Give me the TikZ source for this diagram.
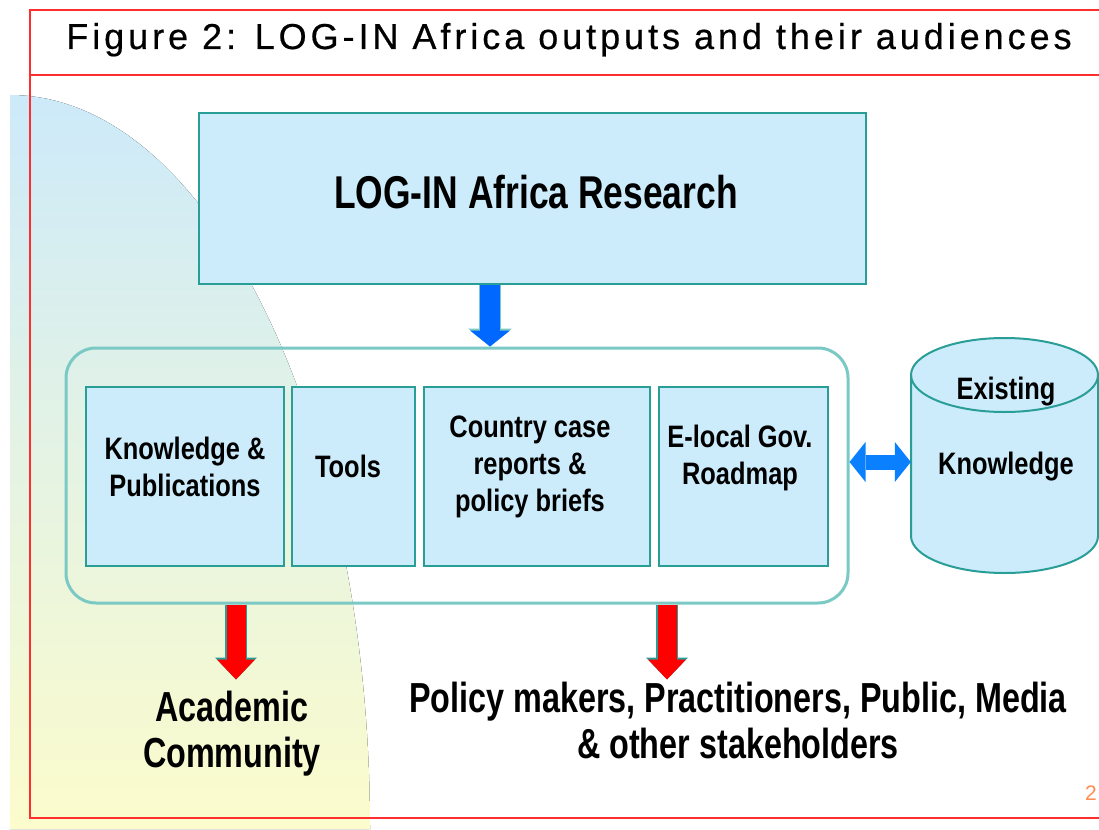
\documentclass[tikz,border=0pt]{standalone}
\usepackage{fontspec}
\setmainfont{Liberation Sans}
\usetikzlibrary{arrows.meta}
\newfontfamily\titlefont[LetterSpace=11,FakeBold=0.5]{Liberation Sans}
\newfontfamily\headfont[FakeStretch=0.77]{Liberation Sans Bold}
\newfontfamily\cellfont[FakeStretch=0.82]{Liberation Sans Bold}

\definecolor{boxblue}{RGB}{204,236,252}
\definecolor{boxedge}{RGB}{40,158,150}
\definecolor{softedge}{RGB}{122,201,196}
\definecolor{framered}{RGB}{255,45,45}
\definecolor{arrowblue}{RGB}{0,104,255}
\definecolor{linkblue}{RGB}{10,128,255}
\definecolor{arrowred}{RGB}{255,0,0}
\definecolor{skyfade}{RGB}{205,234,250}
\definecolor{sandfade}{RGB}{252,252,204}
\definecolor{pagenum}{RGB}{255,140,80}

\tikzset{
  frame/.style={draw=framered, line width=2pt},
  panel/.style={draw=boxedge, fill=boxblue, line width=2pt, inner sep=0pt},
  outputs/.style={draw=softedge, line width=3pt, rounded corners=30pt, inner sep=0pt},
  celltext/.style={font=\cellfont\fontsize{31}{37}\selectfont, align=center, inner sep=0pt},
  headtext/.style={font=\headfont\fontsize{42}{46}\selectfont, align=center, inner sep=0pt},
  downblue/.style={draw=arrowblue, line width=20pt,
    -{Triangle[width=40pt,length=16pt,line width=0pt]},
    preaction={draw=softedge, line width=22pt, -{Triangle[width=44pt,length=18pt,line width=0pt]}}},
  downred/.style={draw=arrowred, line width=19pt,
    -{Triangle[width=38pt,length=20pt,line width=0pt]},
    preaction={draw=boxedge, line width=22pt, -{Triangle[width=42pt,length=22pt,line width=0pt]}}},
  twoway/.style={draw=linkblue, line width=15pt,
    {Triangle[width=40pt,length=16pt,line width=0pt]}-{Triangle[width=40pt,length=16pt,line width=0pt]}},
}

\begin{document}
\begin{tikzpicture}[x=1pt,y=-1pt]
\useasboundingbox (0,0) rectangle (1099,829);
\begin{scope}
\clip (0,0) rectangle (1099,829);

% soft quarter-ellipse backdrop on the left
\fill[top color=skyfade, bottom color=sandfade]
  (10,829) -- (10,95) arc[start angle=-90, end angle=0, x radius=360, y radius=734] -- cycle;

% page frame with title strip
\draw[frame] (1120,10) -- (30,10) -- (30,818) -- (1120,818);
\draw[frame] (30,75) -- (1120,75);
\node[font=\titlefont\fontsize{36}{42}\selectfont, inner sep=0pt, anchor=base] (title) at (569,49)
  {Figure 2: LOG-IN Africa outputs and their audiences};

% research block
\node[panel, minimum width=667pt, minimum height=171pt] (research) at (532.5,198.5) {};
\node[headtext, font=\headfont\fontsize{46}{50}\selectfont] (researchtxt) at (536,192) {LOG-IN Africa Research};

% outputs container and its four cells
\node[outputs, minimum width=782pt, minimum height=255pt] (outs) at (457,475.5) {};
\node[panel, minimum width=198pt, minimum height=179pt] (know) at (185,476.5) {};
\node[panel, minimum width=123pt, minimum height=179pt] (tools) at (353.5,476.5) {};
\node[panel, minimum width=226pt, minimum height=179pt] (country) at (537,476.5) {};
\node[panel, minimum width=169pt, minimum height=179pt] (roadmap) at (743.5,476.5) {};

\node[celltext] (knowtxt) at (185,467) {Knowledge \&\\Publications};
\node[celltext] (toolstxt) at (348,466) {Tools};
\node[celltext] (countrytxt) at (530,467) {Country case\\reports \&\\policy briefs};
\node[celltext] (roadmaptxt) at (740,458) {E-local Gov.\\Roadmap};

% existing knowledge store
\fill[boxblue] (911,375) -- (911,536)
  arc[start angle=180, end angle=0, x radius=93.5, y radius=37]
  -- (1098,375) arc[start angle=0, end angle=-180, x radius=93.5, y radius=37] -- cycle;
\draw[boxedge, line width=2pt] (911,375) -- (911,536)
  arc[start angle=180, end angle=0, x radius=93.5, y radius=37] -- (1098,375);
\draw[boxedge, line width=2pt] (1004.5,375) ellipse[x radius=93.5, y radius=37];
\node[minimum width=187pt, minimum height=235pt, inner sep=0pt] (store) at (1004.5,455.5) {};
\node[celltext] (storetop) at (1006,392) {Existing};
\node[celltext] (storemid) at (1006,467) {Knowledge};

% audiences
\node[headtext] (academic) at (232,734) {Academic\\Community};
\node[headtext] (policy) at (738,720) {Policy makers, Practitioners, Public, Media\\\& other stakeholders};
\node[font=\fontsize{21}{24}\selectfont, text=pagenum, inner sep=0pt] (pageno) at (1091,793) {2};

% connectors
\coordinate (feedx) at (490,0);
\coordinate (acadx) at (236,0);
\coordinate (polx) at (667,0);
\coordinate (linky) at (0,462);
\draw[downblue] (research.south -| feedx) -- (outs.north -| feedx);
\draw[twoway] (outs.east |- linky) -- (store.west |- linky);
\draw[downred] (outs.south -| acadx) -- ([yshift=-75pt]outs.south -| acadx);
\draw[downred] (outs.south -| polx) -- ([yshift=-75pt]outs.south -| polx);
\end{scope}
\end{tikzpicture}
\end{document}
